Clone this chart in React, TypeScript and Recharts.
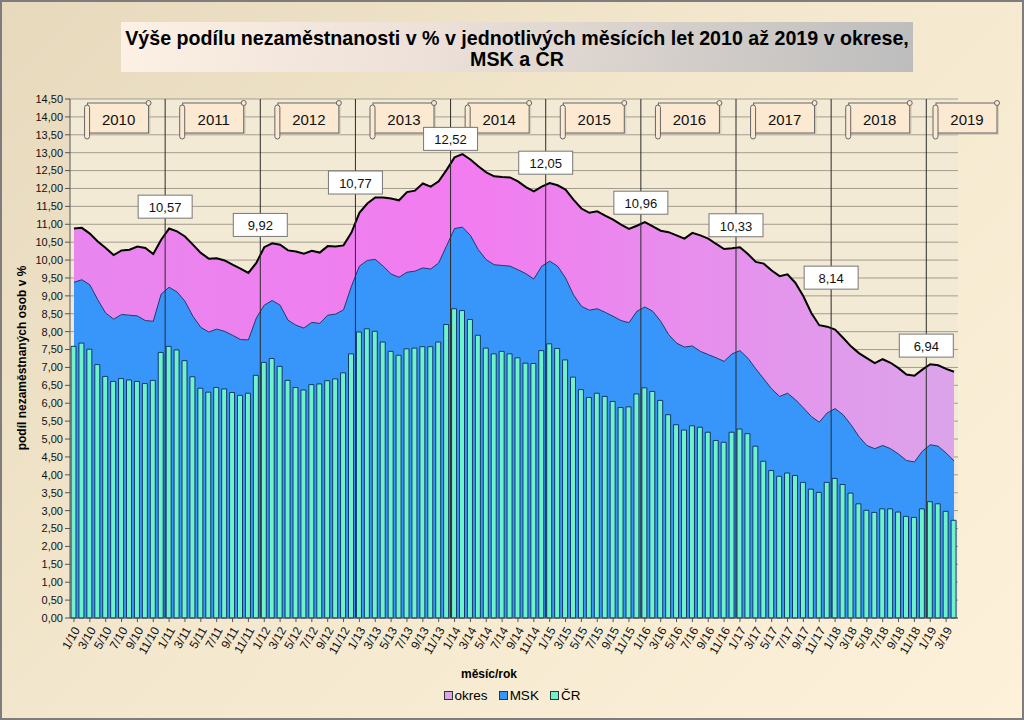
import React from "react";
import {
  ComposedChart, Area, Bar, XAxis, YAxis, CartesianGrid, ReferenceLine, ReferenceDot,
} from "recharts";

// months 1/10 .. 4/19
const YEARS = [10, 11, 12, 13, 14, 15, 16, 17, 18, 19];
const MONTHS: string[] = [];
YEARS.forEach((yy) => {
  const last = yy === 19 ? 4 : 12;
  for (let m = 1; m <= last; m++) MONTHS.push(`${m}/${yy}`);
});

// podíl nezaměstnaných – okres
const OKRES = [
  10.88, 10.9, 10.74, 10.52, 10.34, 10.14, 10.27, 10.29, 10.38, 10.34, 10.17, 10.57,
  10.88, 10.8, 10.66, 10.43, 10.2, 10.04, 10.05, 9.99, 9.87, 9.76, 9.64, 9.92,
  10.36, 10.47, 10.43, 10.27, 10.24, 10.18, 10.26, 10.21, 10.39, 10.38, 10.41, 10.77,
  11.32, 11.58, 11.75, 11.75, 11.72, 11.67, 11.9, 11.94, 12.14, 12.05, 12.2, 12.52,
  12.87, 12.96, 12.81, 12.62, 12.45, 12.34, 12.32, 12.31, 12.2, 12.04, 11.92, 12.05,
  12.15, 12.09, 11.97, 11.69, 11.44, 11.32, 11.36, 11.24, 11.13, 10.99, 10.87, 10.96,
  11.06, 10.94, 10.82, 10.78, 10.69, 10.6, 10.76, 10.69, 10.6, 10.45, 10.31, 10.33,
  10.36, 10.17, 9.95, 9.9, 9.71, 9.55, 9.6, 9.36, 8.99, 8.52, 8.18, 8.14,
  8.06, 7.83, 7.59, 7.4, 7.26, 7.12, 7.23, 7.13, 6.98, 6.8, 6.77, 6.94,
  7.09, 7.06, 6.96, 6.88,
];

// MSK
const MSK = [
  9.38, 9.45, 9.31, 8.89, 8.52, 8.35, 8.48, 8.46, 8.44, 8.31, 8.29, 9.05,
  9.24, 9.11, 8.85, 8.43, 8.12, 7.99, 8.07, 8.01, 7.9, 7.78, 7.77, 8.38,
  8.74, 8.87, 8.74, 8.32, 8.18, 8.1, 8.26, 8.23, 8.46, 8.49, 8.61, 9.27,
  9.83, 9.99, 10.02, 9.83, 9.61, 9.52, 9.66, 9.69, 9.78, 9.75, 9.92, 10.4,
  10.88, 10.92, 10.69, 10.29, 10.01, 9.87, 9.85, 9.83, 9.73, 9.62, 9.47, 9.83,
  9.97, 9.83, 9.5, 9.03, 8.71, 8.6, 8.64, 8.54, 8.43, 8.31, 8.25, 8.57,
  8.69, 8.57, 8.29, 7.92, 7.68, 7.57, 7.6, 7.45, 7.36, 7.27, 7.17, 7.38,
  7.47, 7.26, 6.96, 6.68, 6.4, 6.19, 6.28, 6.1, 5.87, 5.63, 5.47, 5.73,
  5.85, 5.68, 5.4, 5.07, 4.82, 4.73, 4.82, 4.73, 4.58, 4.4, 4.36, 4.66,
  4.84, 4.8, 4.61, 4.39,
];

// ČR
const CR = [
  7.59, 7.68, 7.51, 7.08, 6.75, 6.61, 6.69, 6.65, 6.61, 6.55, 6.64, 7.42,
  7.59, 7.49, 7.19, 6.74, 6.42, 6.31, 6.44, 6.4, 6.3, 6.22, 6.28, 6.78,
  7.14, 7.25, 7.03, 6.64, 6.44, 6.37, 6.52, 6.54, 6.63, 6.68, 6.85, 7.38,
  7.99, 8.08, 8.01, 7.71, 7.45, 7.34, 7.52, 7.54, 7.58, 7.58, 7.71, 8.2,
  8.64, 8.59, 8.34, 7.9, 7.54, 7.38, 7.45, 7.38, 7.27, 7.12, 7.11, 7.47,
  7.66, 7.53, 7.21, 6.73, 6.38, 6.16, 6.28, 6.19, 6.05, 5.88, 5.9, 6.26,
  6.43, 6.33, 6.08, 5.68, 5.4, 5.25, 5.37, 5.33, 5.19, 4.96, 4.91, 5.19,
  5.28, 5.15, 4.8, 4.38, 4.12, 3.96, 4.05, 3.98, 3.79, 3.6, 3.51, 3.79,
  3.9, 3.73, 3.49, 3.19, 3.01, 2.95, 3.05, 3.05, 2.96, 2.84, 2.81, 3.05,
  3.25, 3.19, 2.98, 2.73,
];

const Y_TICKS = [
  0, 0.5, 1, 1.5, 2, 2.5, 3, 3.5, 4, 4.5, 5, 5.5, 6, 6.5, 7, 7.5,
  8, 8.5, 9, 9.5, 10, 10.5, 11, 11.5, 12, 12.5, 13, 13.5, 14, 14.5,
];

const SERIES_NAMES = ["okres", "MSK", "ČR"];
const YEAR_LABELS = ["2010", "2011", "2012", "2013", "2014", "2015", "2016", "2017", "2018", "2019"];
// December of each year gets a box with the district value
const DEC_MONTHS = ["12/10", "12/11", "12/12", "12/13", "12/14", "12/15", "12/16", "12/17", "12/18"];
// how far above the line each box sits (px) – styling only
const LABEL_LIFT = [33, 38, 50, 31, 24, 23, 23, 49, 24];

const data = MONTHS.map((m, i) => ({ m, okres: OKRES[i], msk: MSK[i], cr: CR[i] }));

const COLORS = { okres: "#dba5ec", msk: "#3896fb", cr: "#6ff2c9" };
const FONT = "'Liberation Sans', Arial, sans-serif";
const HALF_BAND = 888 / MONTHS.length / 2;

const fmt = (v: number) => v.toFixed(2).replace(".", ",");

function MonthTick({ x, y, payload }: any) {
  return (
    <g transform={`translate(${x + 3},${y + 4})`}>
      <text transform="rotate(-60)" textAnchor="end" dominantBaseline="central" fontSize={12} fill="#111" fontFamily={FONT}>
        {payload.value}
      </text>
    </g>
  );
}

function YearBox({ viewBox, text, dx = 0 }: any) {
  const cx = viewBox.x + dx;
  const top = viewBox.y + 4;
  return (
    <g>
      <rect x={cx - 28} y={top + 2} width={61} height={30} fill="#c9bfae" opacity={0.6} />
      <rect x={cx - 30} y={top} width={61} height={30} fill="#fbe9d2" stroke="#666" strokeWidth={1} />
      <rect x={cx - 33} y={top + 2} width={5} height={34} rx={2.5} fill="#fbe9d2" stroke="#666" strokeWidth={1} />
      <circle cx={cx + 31} cy={top} r={2.5} fill="#fbe9d2" stroke="#666" strokeWidth={1} />
      <text x={cx + 1} y={top + 16} textAnchor="middle" dominantBaseline="central" fontSize={15} fill="#111" fontFamily={FONT}>
        {text}
      </text>
    </g>
  );
}

function ValueBox({ viewBox, text, lift }: any) {
  const cx = viewBox.x + HALF_BAND;
  const cy = viewBox.y - lift;
  return (
    <g>
      <rect x={cx - 27} y={cy - 11.5} width={54} height={23} fill="#fff" stroke="#777" strokeWidth={1} />
      <text x={cx} y={cy + 1} textAnchor="middle" dominantBaseline="central" fontSize={13} fill="#111" fontFamily={FONT}>
        {text}
      </text>
    </g>
  );
}

export default function App() {
  const legendColors = [COLORS.okres, COLORS.msk, COLORS.cr];
  return (
    <div
      style={{
        position: "fixed", left: 0, top: 0, width: 1024, height: 720,
        background: "linear-gradient(135deg, #e6d9bc 0%, #f3e7cd 45%, #fdf1da 100%)",
        boxShadow: "inset 0 0 0 2px #7d7d7d", fontFamily: FONT, overflow: "hidden",
      }}
    >
      <div
        style={{
          position: "absolute", left: 121, top: 22, width: 792, height: 50,
          background: "linear-gradient(100deg, #fdf0e4 0%, #ece0d8 40%, #bdbdbd 100%)",
          fontWeight: "bold", fontSize: 21, lineHeight: "21px",
        }}
      >
        <div
          style={{
            position: "absolute", left: "50%", top: 5, textAlign: "center", whiteSpace: "nowrap",
            transform: "translateX(-50%) scaleX(0.935)", transformOrigin: "center",
          }}
        >
          Výše podílu nezaměstnanosti v % v jednotlivých měsících let 2010 až 2019 v okrese,
          <br />
          MSK a ČR
        </div>
      </div>

      <ComposedChart width={1024} height={720} data={data} margin={{ top: 99, right: 66, bottom: 52, left: 0 }}>
        <defs>
          <linearGradient id="okresGrad" x1="0" y1="0" x2="1" y2="0">
            <stop offset="0%" stopColor="#e986ee" />
            <stop offset="45%" stopColor="#f27cf0" />
            <stop offset="100%" stopColor="#dba4ea" />
          </linearGradient>
        </defs>
        <CartesianGrid vertical={false} stroke="#a39d8e" fill="#f3ead5" />
        <XAxis
          dataKey="m" interval={1} height={50} tick={<MonthTick />}
          tickSize={4} tickMargin={2} axisLine={{ stroke: "#555" }} tickLine={{ stroke: "#555" }}
        />
        <YAxis
          width={70} domain={[0, 14.5]} ticks={Y_TICKS} tickFormatter={fmt} interval={0}
          tick={{ fontSize: 11, fill: "#111", fontFamily: FONT }} tickSize={5}
          axisLine={{ stroke: "#555" }} tickLine={{ stroke: "#555" }}
        />
        <Area
          type="linear" dataKey="okres" name={SERIES_NAMES[0]} fill="url(#okresGrad)" fillOpacity={1}
          stroke="#000" strokeWidth={2} dot={false} activeDot={false} isAnimationActive={false}
        />
        <Area
          type="linear" dataKey="msk" name={SERIES_NAMES[1]} fill={COLORS.msk} fillOpacity={1}
          stroke="#1f3a70" strokeWidth={1} dot={false} activeDot={false} isAnimationActive={false}
        />
        <Bar dataKey="cr" name={SERIES_NAMES[2]} barSize={5} fill={COLORS.cr} stroke="#143866" strokeWidth={1} isAnimationActive={false} />

        {YEAR_LABELS.slice(1).map((y) => (
          <ReferenceLine key={"b" + y} x={`1/${y.slice(2)}`} position="start" stroke="#2b2b2b" strokeWidth={1} />
        ))}
        {YEAR_LABELS.map((y, i) => {
          const last = i === YEAR_LABELS.length - 1;
          return (
            <ReferenceLine
              key={"y" + y}
              x={last ? `4/${y.slice(2)}` : `7/${y.slice(2)}`}
              position={last ? "end" : "start"}
              stroke="none"
              label={(p: any) => <YearBox viewBox={p.viewBox} text={y} dx={last ? 8 : 0} />}
            />
          );
        })}
        {DEC_MONTHS.map((m, i) => {
          const v = OKRES[MONTHS.indexOf(m)];
          return (
            <ReferenceDot
              key={"d" + m} x={m} y={v} r={0} fill="none" stroke="none"
              label={(p: any) => <ValueBox viewBox={p.viewBox} text={fmt(v)} lift={LABEL_LIFT[i]} />}
            />
          );
        })}
      </ComposedChart>

      <div
        style={{
          position: "absolute", left: 14, top: 358, transform: "translate(-50%, -50%) rotate(-90deg)",
          transformOrigin: "center", whiteSpace: "nowrap", fontWeight: "bold", fontSize: 12, marginLeft: 8,
        }}
      >
        podíl nezaměstnaných osob v %
      </div>
      <div style={{ position: "absolute", left: 489, top: 674, transform: "translate(-50%, -50%)", fontWeight: "bold", fontSize: 12 }}>
        měsíc/rok
      </div>
      <div
        style={{
          position: "absolute", left: 0, width: 1024, top: 688, display: "flex", justifyContent: "center",
          gap: 11, fontSize: 13.5, alignItems: "center", paddingLeft: 0,
        }}
      >
        {SERIES_NAMES.map((n, i) => (
          <div key={n} style={{ display: "flex", alignItems: "center", gap: 2 }}>
            <span style={{ display: "inline-block", width: 7, height: 7, background: legendColors[i], border: "1px solid #333" }} />
            <span>{n}</span>
          </div>
        ))}
      </div>
    </div>
  );
}
